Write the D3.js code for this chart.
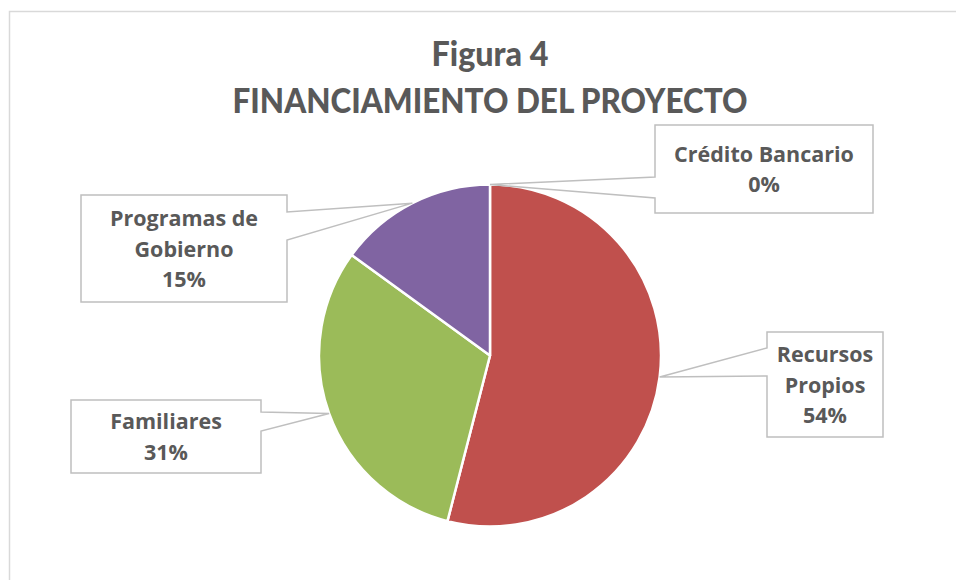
<!DOCTYPE html>
<html>
<head>
<meta charset="utf-8">
<script src="https://cdn.jsdelivr.net/npm/d3@7"></script>
<style>
body { margin: 0; background: #fff; }
text { font-family: Lato, "Open Sans", sans-serif; font-weight: 900; fill: #595959; }
text.lbl { font-family: "Open Sans", Lato, sans-serif; font-weight: 700; }
</style>
</head>
<body>
<script>
var w = 956, h = 580

// data
var categories = ["Crédito Bancario", "Recursos Propios", "Familiares", "Programas de Gobierno"]
var values = [0, 54, 31, 15]
var colors = ["#4F81BD", "#C0504D", "#9BBB59", "#8064A2"]
// label lines (how the labels wrap in the picture)
var label_lines = [["Crédito Bancario"], ["Recursos", "Propios"], ["Familiares"], ["Programas de", "Gobierno"]]
var title_lines = ["Figura 4", "FINANCIAMIENTO DEL PROYECTO"]

// layout of the callout boxes: x, y, width, height, side of the wedge, wedge top/bottom
var boxes = [
  {x: 655, y: 125, w: 218, h: 88, side: "left", w1: 177, w2: 198},
  {x: 767, y: 332, w: 116, h: 105, side: "left", w1: 348, w2: 376},
  {x: 71, y: 400, w: 190, h: 73, side: "right", w1: 412, w2: 431},
  {x: 81, y: 195, w: 206, h: 107, side: "right", w1: 212, w2: 240}
]

var cx = 490, cy = 355.5, r = 171
var font_size = 21.5, line_h = 30.5

var svg = d3.select("body").append("svg")
.attr("width", w)
.attr("height", h)

// chart area border
svg.append("rect")
.attr("x", 9.5)
.attr("y", 11.5)
.attr("width", w)
.attr("height", h)
.attr("fill", "none")
.attr("stroke", "#d9d9d9")
.attr("stroke-width", 1.5)

// title
svg.append("text")
.attr("x", cx)
.attr("y", 66)
.attr("text-anchor", "middle")
.style("font-size", "34px")
.attr("textLength", 117)
.attr("lengthAdjust", "spacingAndGlyphs")
.text(title_lines[0])
svg.append("text")
.attr("x", cx)
.attr("y", 113)
.attr("text-anchor", "middle")
.style("font-size", "34px")
.attr("textLength", 515)
.attr("lengthAdjust", "spacingAndGlyphs")
.text(title_lines[1])

var pie = d3.pie().sort(null).value(function(d) { return d })
var arcs = pie(values)
var arc = d3.arc().innerRadius(0).outerRadius(r)

var pie_group = svg.append("g")
.attr("transform", "translate(" + cx + "," + cy + ")")

pie_group.selectAll("path")
.data(arcs)
.enter()
.append("path")
.attr("d", arc)
.attr("fill", function(d, i) { return colors[i] })
.attr("stroke", "#fff")
.attr("stroke-width", 2.5)
.attr("stroke-linejoin", "round")

// callouts
arcs.forEach(function(d, i)
{
  var b = boxes[i]
  var mid = (d.startAngle + d.endAngle) / 2
  var px = cx + r * Math.sin(mid)
  var py = cy - r * Math.cos(mid)
  var p
  if (b.side == "left")
  {
    p = "M" + b.x + "," + b.w1 + "L" + b.x + "," + b.y + "L" + (b.x + b.w) + "," + b.y
      + "L" + (b.x + b.w) + "," + (b.y + b.h) + "L" + b.x + "," + (b.y + b.h)
      + "L" + b.x + "," + b.w2 + "L" + px + "," + py + "Z"
  }
  else
  {
    var xr = b.x + b.w
    p = "M" + xr + "," + b.w1 + "L" + xr + "," + b.y + "L" + b.x + "," + b.y
      + "L" + b.x + "," + (b.y + b.h) + "L" + xr + "," + (b.y + b.h)
      + "L" + xr + "," + b.w2 + "L" + px + "," + py + "Z"
  }
  svg.append("path")
  .attr("d", p)
  .attr("fill", "#fff")
  .attr("stroke", "#bfbfbf")
  .attr("stroke-width", 1.5)
  .attr("stroke-linejoin", "miter")

  var lines = label_lines[i].concat([Math.round(values[i]) + "%"])
  var n = lines.length
  lines.forEach(function(t, j)
  {
    svg.append("text")
    .attr("class", "lbl")
    .attr("x", b.x + b.w / 2)
    .attr("y", b.y + b.h / 2 + (j - (n - 1) / 2) * line_h + 8)
    .attr("text-anchor", "middle")
    .style("font-size", font_size + "px")
    .text(t)
  })
})
</script>
</body>
</html>
